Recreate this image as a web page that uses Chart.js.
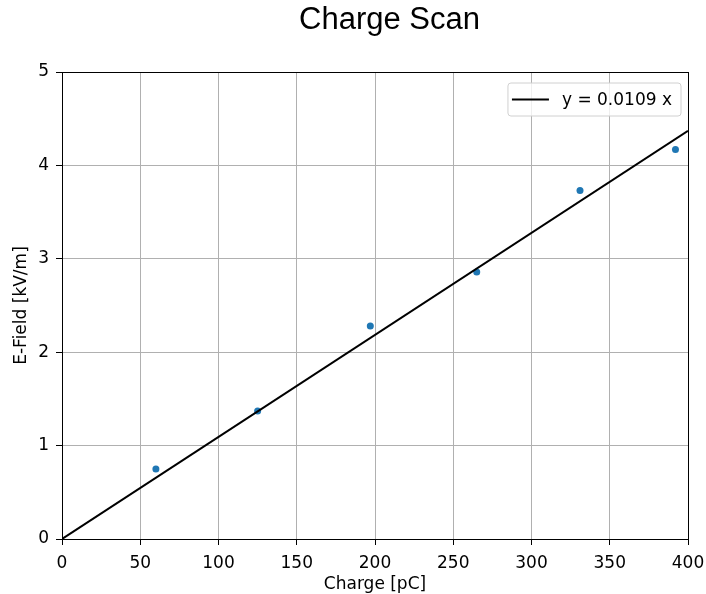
<!DOCTYPE html>
<html>
<head>
<meta charset="utf-8">
<script src="https://cdn.jsdelivr.net/npm/chart.js@4.4.1/dist/chart.umd.min.js"></script>
<style>
  html, body { margin: 0; padding: 0; background: #fff; }
  #wrap { width: 706px; height: 594px; }
</style>
</head>
<body>
<div id="wrap"><canvas id="c" width="706" height="594"></canvas></div>
<script>
// Data
const chargeValues = [60, 125, 197, 265, 331, 392];        // pC
const fieldValues  = [0.75, 1.37, 2.28, 2.86, 3.73, 4.17]; // kV/m
const fitLineX = [0, 400];
const fitLineY = [0, 4.37];
const fitLabel = 'y = 0.0109 x';
const chartTitle = 'Charge Scan';
const xTicks = [0, 50, 100, 150, 200, 250, 300, 350, 400];
const yTicks = [0, 1, 2, 3, 4, 5];

const tickFont = { family: '"DejaVu Sans", sans-serif', size: 17 };
const axisTitleFont = { family: '"DejaVu Sans", sans-serif', size: 17, lineHeight: 1 };

const titlePlugin = {
  id: 'mplTitle',
  afterDraw(chart) {
    const { ctx } = chart;
    ctx.save();
    ctx.font = '31px "Liberation Sans", Arial, sans-serif';
    ctx.fillStyle = '#000';
    ctx.textAlign = 'center';
    ctx.textBaseline = 'alphabetic';
    ctx.fillText(chartTitle, 389.5, 28.5);
    ctx.restore();
  }
};

const framePlugin = {
  id: 'frame',
  afterDatasetsDraw(chart) {
    const { ctx, chartArea: a } = chart;
    ctx.save();
    ctx.strokeStyle = '#000';
    ctx.lineWidth = 1;
    ctx.strokeRect(Math.round(a.left) + 0.5, Math.round(a.top) + 0.5,
                   Math.round(a.right - a.left), Math.round(a.bottom - a.top));
    ctx.restore();
  }
};

const insideLegend = {
  id: 'insideLegend',
  afterDraw(chart) {
    const { ctx, chartArea: a } = chart;
    const ds = chart.data.datasets[0];
    ctx.save();
    ctx.font = '17px "DejaVu Sans", sans-serif';
    const tw = ctx.measureText(ds.label).width;
    const boxW = 54 + tw + 9;
    const boxH = 33;
    const x = a.right - 7 - boxW;
    const y = a.top + 11;
    const r = 3;
    ctx.beginPath();
    ctx.moveTo(x + r, y);
    ctx.lineTo(x + boxW - r, y);
    ctx.quadraticCurveTo(x + boxW, y, x + boxW, y + r);
    ctx.lineTo(x + boxW, y + boxH - r);
    ctx.quadraticCurveTo(x + boxW, y + boxH, x + boxW - r, y + boxH);
    ctx.lineTo(x + r, y + boxH);
    ctx.quadraticCurveTo(x, y + boxH, x, y + boxH - r);
    ctx.lineTo(x, y + r);
    ctx.quadraticCurveTo(x, y, x + r, y);
    ctx.closePath();
    ctx.fillStyle = 'rgba(255,255,255,0.8)';
    ctx.fill();
    ctx.strokeStyle = '#d0d0d0';
    ctx.lineWidth = 1;
    ctx.stroke();
    const cy = y + boxH / 2;
    ctx.beginPath();
    ctx.moveTo(x + 4, cy);
    ctx.lineTo(x + 41, cy);
    ctx.strokeStyle = ds.borderColor;
    ctx.lineWidth = 2;
    ctx.stroke();
    ctx.fillStyle = '#000';
    ctx.textBaseline = 'middle';
    ctx.textAlign = 'left';
    ctx.fillText(ds.label, x + 54, cy + 1);
    ctx.restore();
  }
};

new Chart(document.getElementById('c'), {
  type: 'scatter',
  data: {
    datasets: [
      {
        type: 'line',
        label: fitLabel,
        data: fitLineX.map((v, i) => ({ x: v, y: fitLineY[i] })),
        borderColor: '#000000',
        borderWidth: 2,
        pointRadius: 0,
        fill: false,
        order: 0
      },
      {
        label: 'data',
        data: chargeValues.map((v, i) => ({ x: v, y: fieldValues[i] })),
        backgroundColor: '#1f77b4',
        borderWidth: 0,
        pointRadius: 3.5,
        order: 1
      }
    ]
  },
  options: {
    responsive: false,
    animation: false,
    layout: { padding: { left: 0, right: 18, top: 72, bottom: 0 } },
    plugins: {
      legend: { display: false },
      tooltip: { enabled: false },
      title: { display: false }
    },
    scales: {
      x: {
        type: 'linear',
        min: 0, max: 400,
        afterBuildTicks(s) { s.ticks = xTicks.map(v => ({ value: v })); },
        afterFit(s) { s.height = 55; s.paddingLeft = 0; s.paddingRight = 0; },
        ticks: { color: '#000', font: tickFont, padding: 8, maxRotation: 0 },
        grid: { color: '#b0b0b0', lineWidth: 1, tickColor: '#000', tickLength: 6, drawTicks: true },
        border: { color: '#000', width: 1 },
        title: { display: true, text: 'Charge [pC]', color: '#000', font: axisTitleFont, padding: { top: 0, bottom: 1 } }
      },
      y: {
        type: 'linear',
        min: 0, max: 5,
        afterBuildTicks(s) { s.ticks = yTicks.map(v => ({ value: v })); },
        afterFit(s) { s.width = 62; s.paddingTop = 0; s.paddingBottom = 0; },
        ticks: { color: '#000', font: tickFont, padding: 7 },
        grid: { color: '#b0b0b0', lineWidth: 1, tickColor: '#000', tickLength: 6, drawTicks: true },
        border: { color: '#000', width: 1 },
        title: { display: true, text: 'E-Field [kV/m]', color: '#000', font: axisTitleFont, padding: { top: 13, bottom: 0 } }
      }
    }
  },
  plugins: [framePlugin, insideLegend, titlePlugin]
});
</script>
</body>
</html>
